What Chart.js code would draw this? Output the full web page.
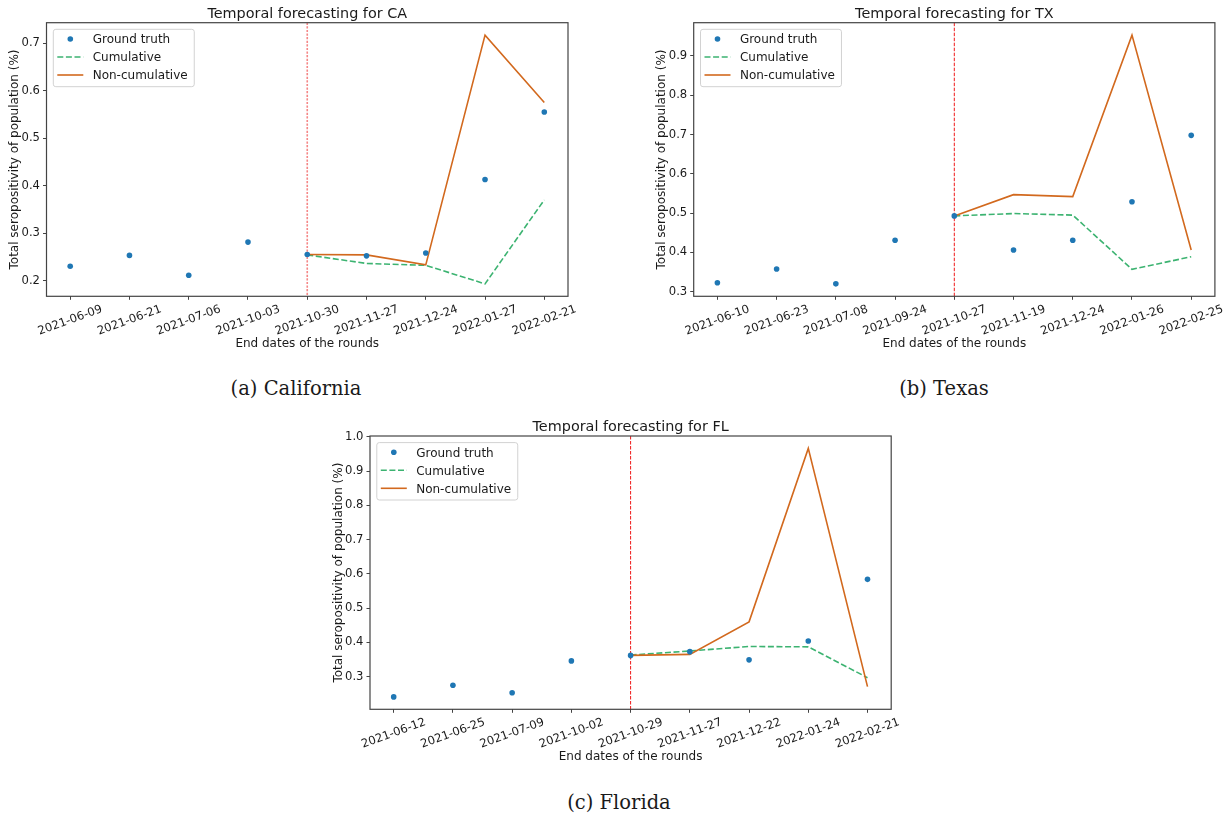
<!DOCTYPE html>
<html>
<head>
<meta charset="utf-8">
<script src="https://cdn.jsdelivr.net/npm/chart.js@4.4.0/dist/chart.umd.min.js"></script>
<style>
  html, body { margin: 0; padding: 0; background: #ffffff; width: 1232px; height: 818px; overflow: hidden; position: relative; }
  canvas { position: absolute; }
  .cap { position: absolute; font-family: "DejaVu Serif", serif; font-size: 19.5px; line-height: 20px; color: #1a1a1a; white-space: nowrap; transform: translateX(-50%); }
</style>
</head>
<body>
<canvas id="ca" width="600" height="360" style="left:0px;top:0px"></canvas>
<canvas id="tx" width="585" height="360" style="left:647px;top:0px"></canvas>
<canvas id="fl" width="600" height="360" style="left:323px;top:413px"></canvas>
<div class="cap" style="left:296px;top:379px">(a) California</div>
<div class="cap" style="left:944px;top:379px">(b) Texas</div>
<div class="cap" style="left:619px;top:792.5px">(c) Florida</div>

<script>
// ---------------- data ----------------
const caDates = ['2021-06-09', '2021-06-21', '2021-07-06', '2021-10-03', '2021-10-30', '2021-11-27', '2021-12-24', '2022-01-27', '2022-02-21'];
const caTruth = [0.230, 0.253, 0.211, 0.281, 0.255, 0.252, 0.258, 0.413, 0.555];
const caCumulative = [null, null, null, null, 0.254, 0.236, 0.232, 0.193, 0.370];
const caNonCumulative = [null, null, null, null, 0.255, 0.254, 0.233, 0.717, 0.575];
const caYTicks = [0.2, 0.3, 0.4, 0.5, 0.6, 0.7];

const txDates = ['2021-06-10', '2021-06-23', '2021-07-08', '2021-09-24', '2021-10-27', '2021-11-19', '2021-12-24', '2022-01-26', '2022-02-25'];
const txTruth = [0.323, 0.358, 0.320, 0.431, 0.493, 0.406, 0.431, 0.529, 0.698];
const txCumulative = [null, null, null, null, 0.493, 0.499, 0.495, 0.357, 0.389];
const txNonCumulative = [null, null, null, null, 0.493, 0.547, 0.542, 0.953, 0.406];
const txYTicks = [0.3, 0.4, 0.5, 0.6, 0.7, 0.8, 0.9];

const flDates = ['2021-06-12', '2021-06-25', '2021-07-09', '2021-10-02', '2021-10-29', '2021-11-27', '2021-12-22', '2022-01-24', '2022-02-21'];
const flTruth = [0.241, 0.275, 0.253, 0.346, 0.362, 0.373, 0.349, 0.404, 0.584];
const flCumulative = [null, null, null, null, 0.363, 0.375, 0.388, 0.387, 0.297];
const flNonCumulative = [null, null, null, null, 0.362, 0.365, 0.460, 0.966, 0.271];
const flYTicks = [0.3, 0.4, 0.5, 0.6, 0.7, 0.8, 0.9, 1.0];

const splitIndex = 4;
const seriesNames = ['Ground truth', 'Cumulative', 'Non-cumulative'];

// ---------------- style ----------------
const FONT = "'DejaVu Sans', sans-serif";
const TEXT = '#1a1a1a';
const AXIS = '#444444';

function toPoints(arr) {
  const out = [];
  arr.forEach((v, i) => { if (v !== null) out.push({ x: i, y: v }); });
  return out;
}

const framePlugin = {
  id: 'frame',
  afterDatasetsDraw(chart) {
    const { ctx, chartArea: a } = chart;
    ctx.save();
    ctx.strokeStyle = AXIS;
    ctx.lineWidth = 1.2;
    ctx.setLineDash([]);
    ctx.strokeRect(a.left, a.top, a.right - a.left, a.bottom - a.top);
    ctx.restore();
  }
};

const splitPlugin = {
  id: 'split',
  beforeDatasetsDraw(chart, args, o) {
    const { ctx, chartArea: a } = chart;
    const x = chart.scales.x.getPixelForValue(o.index);
    ctx.save();
    ctx.strokeStyle = o.color;
    ctx.lineWidth = o.width;
    ctx.setLineDash(o.dash);
    ctx.beginPath();
    ctx.moveTo(x, a.top);
    ctx.lineTo(x, a.bottom);
    ctx.stroke();
    ctx.restore();
  }
};

const boxLegendPlugin = {
  id: 'boxLegend',
  afterDraw(chart) {
    const { ctx, chartArea: a } = chart;
    const items = chart.data.datasets;
    ctx.save();
    ctx.font = '12px ' + FONT;
    const tw = Math.max(...items.map(d => ctx.measureText(d.label).width));
    const x0 = a.left + 6.8, y0 = a.top + 6.6, w = 39.4 + tw + 6.6, h = 57.4, r = 2.5;
    ctx.beginPath();
    ctx.moveTo(x0 + r, y0);
    ctx.lineTo(x0 + w - r, y0);
    ctx.arcTo(x0 + w, y0, x0 + w, y0 + r, r);
    ctx.lineTo(x0 + w, y0 + h - r);
    ctx.arcTo(x0 + w, y0 + h, x0 + w - r, y0 + h, r);
    ctx.lineTo(x0 + r, y0 + h);
    ctx.arcTo(x0, y0 + h, x0, y0 + h - r, r);
    ctx.lineTo(x0, y0 + r);
    ctx.arcTo(x0, y0, x0 + r, y0, r);
    ctx.closePath();
    ctx.fillStyle = 'rgba(255,255,255,0.8)';
    ctx.fill();
    ctx.strokeStyle = '#d2d2d2';
    ctx.lineWidth = 1;
    ctx.stroke();
    items.forEach((d, i) => {
      const cy = y0 + 9.7 + 18 * i;
      if (d.showLine === false) {
        ctx.beginPath();
        ctx.fillStyle = d.pointBackgroundColor;
        ctx.arc(x0 + 17, cy, d.pointRadius, 0, Math.PI * 2);
        ctx.fill();
      } else {
        ctx.beginPath();
        ctx.setLineDash(d.borderDash || []);
        ctx.strokeStyle = d.borderColor;
        ctx.lineWidth = d.borderWidth;
        ctx.moveTo(x0 + 4, cy);
        ctx.lineTo(x0 + 30, cy);
        ctx.stroke();
        ctx.setLineDash([]);
      }
      ctx.fillStyle = TEXT;
      ctx.textBaseline = 'alphabetic';
      ctx.textAlign = 'left';
      ctx.fillText(d.label, x0 + 39.4, cy + 4.4);
    });
    ctx.restore();
  }
};

function build(id, p) {
  const canvas = document.getElementById(id);
  const W = canvas.width, H = canvas.height;
  const A = {
    left: p.area[0] - p.canvasLeft, top: p.area[1] - p.canvasTop,
    right: p.area[2] - p.canvasLeft, bottom: p.area[3] - p.canvasTop
  };
  const all = [...p.truth, ...p.cum, ...p.non].filter(v => v !== null);
  const lo = Math.min(...all), hi = Math.max(...all), m = 0.05 * (hi - lo);
  const n = p.dates.length, xm = 0.05 * (n - 1);

  const titleSize = 14.4, labelSize = 12, tickSize = 11.6;
  const titleMid = A.top - 4.2 - 0.297 * titleSize;
  const tPadTop = titleMid - titleSize / 2;
  const tPadBottom = Math.max(0, A.top - tPadTop - titleSize);
  const xTitleMid = A.bottom + 51 - 0.297 * labelSize;
  const xTitlePadBottom = H - labelSize / 2 - xTitleMid;
  const yTitleMid = A.left - 31.5;
  const yTitlePadTop = yTitleMid - labelSize / 2;

  const gridCfg = { display: true, drawOnChartArea: false, drawTicks: true, tickLength: 3.5, tickWidth: 1, tickColor: AXIS, color: AXIS };

  return new Chart(canvas, {
    type: 'line',
    data: {
      datasets: [
        { label: seriesNames[0], data: toPoints(p.truth), showLine: false, pointRadius: 2.8, pointHoverRadius: 2.8,
          pointBackgroundColor: '#1f77b4', pointBorderWidth: 0, borderColor: '#1f77b4', backgroundColor: '#1f77b4', order: 0 },
        { label: seriesNames[1], data: toPoints(p.cum), borderColor: '#3cb371', backgroundColor: '#3cb371', borderWidth: 1.6,
          borderDash: [6, 2.6], pointRadius: 0, fill: false, tension: 0, order: 2 },
        { label: seriesNames[2], data: toPoints(p.non), borderColor: '#d2691e', backgroundColor: '#d2691e', borderWidth: 1.6,
          pointRadius: 0, fill: false, tension: 0, order: 1 }
      ]
    },
    options: {
      responsive: false,
      animation: false,
      events: [],
      layout: { padding: { left: 0, top: 0, right: W - A.right, bottom: 0 } },
      scales: {
        x: {
          type: 'linear', min: -xm, max: n - 1 + xm,
          afterBuildTicks: s => { s.ticks = p.dates.map((_, i) => ({ value: i })); },
          afterFit: s => { s.height = H - A.bottom; s.paddingLeft = 0; s.paddingRight = 0; },
          grid: gridCfg, border: { display: false },
          ticks: { autoSkip: false, minRotation: 20, maxRotation: 20, padding: 2.5, labelOffset: 31.7, color: TEXT,
                   font: { family: FONT, size: tickSize, lineHeight: 1.2 }, callback: v => p.dates[v] },
          title: { display: true, text: 'End dates of the rounds', color: TEXT,
                   font: { family: FONT, size: labelSize, lineHeight: 1 }, padding: { top: 0, bottom: xTitlePadBottom } }
        },
        y: {
          type: 'linear', min: lo - m, max: hi + m,
          afterBuildTicks: s => { s.ticks = p.yTicks.map(v => ({ value: v })); },
          afterFit: s => { s.width = A.left; s.paddingTop = 0; s.paddingBottom = 0; },
          grid: gridCfg, border: { display: false },
          ticks: { padding: 3, color: TEXT, font: { family: FONT, size: tickSize, lineHeight: 1.2 }, callback: v => v.toFixed(1) },
          title: { display: true, text: 'Total seropositivity of population (%)', color: TEXT,
                   font: { family: FONT, size: labelSize, lineHeight: 1 }, padding: { top: yTitlePadTop, bottom: 0 } }
        }
      },
      plugins: {
        legend: { display: false },
        tooltip: { enabled: false },
        title: { display: true, text: p.title, color: TEXT, fullSize: false,
                 font: { family: FONT, size: titleSize, weight: 'normal', lineHeight: 1 },
                 padding: { top: tPadTop, bottom: tPadBottom } },
        split: p.split
      }
    },
    plugins: [splitPlugin, framePlugin, boxLegendPlugin]
  });
}

build('ca', {
  title: 'Temporal forecasting for CA', dates: caDates, truth: caTruth, cum: caCumulative, non: caNonCumulative, yTicks: caYTicks,
  canvasLeft: 0, canvasTop: 0, area: [46.5, 22.7, 568, 296.3],
  split: { index: splitIndex, color: 'rgba(240,70,70,0.65)', width: 1.6, dash: [2.2, 1.4] }
});
build('tx', {
  title: 'Temporal forecasting for TX', dates: txDates, truth: txTruth, cum: txCumulative, non: txNonCumulative, yTicks: txYTicks,
  canvasLeft: 647, canvasTop: 0, area: [693.7, 22.7, 1214.9, 296.3],
  split: { index: splitIndex, color: '#f01818', width: 1, dash: [3.5, 1.5] }
});
build('fl', {
  title: 'Temporal forecasting for FL', dates: flDates, truth: flTruth, cum: flCumulative, non: flNonCumulative, yTicks: flYTicks,
  canvasLeft: 323, canvasTop: 413, area: [370, 436, 891.2, 709.3],
  split: { index: splitIndex, color: '#f01818', width: 1, dash: [3.5, 1.5] }
});
</script>
</body>
</html>
